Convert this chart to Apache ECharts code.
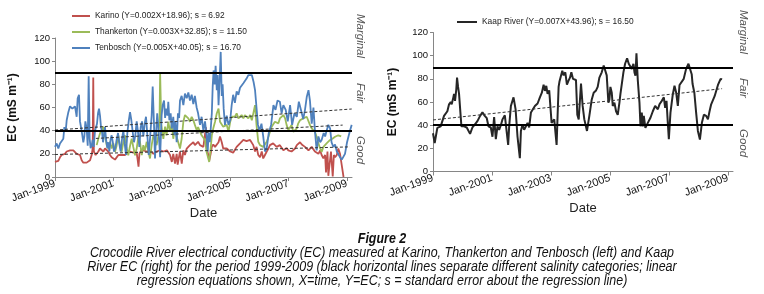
<!DOCTYPE html>
<html>
<head>
<meta charset="utf-8">
<script src="https://cdn.jsdelivr.net/npm/echarts@6/dist/echarts.min.js"></script>
<style>
  html, body { margin: 0; padding: 0; background: #fff; }
  #chart { width: 764px; height: 294px; }
</style>
</head>
<body>
<div id="chart"></div>
<script>
// x = years since Jan-1999, y = EC (mS/m)
const xTicks = [0, 2, 4, 6, 8, 10];
const xTickLabels = ['Jan-1999', 'Jan-2001', 'Jan-2003', 'Jan-2005', 'Jan-2007', 'Jan-2009'];
const xMax = 10.17;
const classLimits = [90, 40];

const karinoName = 'Karino (Y=0.002X+18.96); s = 6.92';
const thankertonName = 'Thankerton (Y=0.003X+32.85); s = 11.50';
const tenboschName = 'Tenbosch (Y=0.005X+40.05); s = 16.70';
const kaapName = 'Kaap River (Y=0.007X+43.96); s = 16.50';

const karino = [[0,13],[0.057,14.5],[0.114,14],[0.171,17],[0.228,19],[0.285,18],[0.34,20],[0.4,22],[0.457,23],[0.514,23],
  [0.571,22],[0.628,23],[0.685,22],[0.742,20],[0.8,20.5],[0.856,19],[0.913,14.5],[0.97,12.4],[1.027,12],[1.084,12.4],
  [1.14,13],[1.2,14.5],[1.256,19],[1.29,24.6],[1.31,86],[1.33,22],[1.39,19],[1.427,20],[1.484,22],[1.54,24.6],
  [1.6,26],[1.655,22],[1.712,24.6],[1.77,26],[1.826,22],[1.884,19],[1.94,17],[2.0,16],[2.055,15],[2.11,16],
  [2.17,19],[2.226,20],[2.28,19],[2.34,18],[2.397,19],[2.454,20],[2.57,22],[2.68,21],[2.79,22],[2.83,15],[2.86,9],[2.89,20],
  [2.95,23],[3.025,23],[3.14,22],[3.25,23],[3.37,20],[3.48,22],[3.6,23],[3.72,22],[3.83,23],[3.94,19],[4.0,13],[4.05,20],
  [4.11,11.6],[4.166,20],[4.2,10.7],[4.28,22],[4.34,11.6],[4.395,23],[4.45,19],[4.51,24.6],[4.566,26],[4.62,27.5],
  [4.68,29],[4.737,30],[4.79,27.5],[4.85,29],[4.9,30.4],[4.966,27.5],[5.02,29],[5.08,26],[5.137,27.5],[5.17,43],
  [5.2,24],[5.25,19],[5.28,14],[5.33,20],[5.37,26],[5.42,28],[5.48,26],[5.54,27],[5.6,30],[5.65,35],[5.71,30],
  [5.76,24.6],[5.88,24.6],[6.0,22],[6.1,21],[6.22,26],[6.336,29],[6.45,32],[6.56,31],[6.68,32],[6.79,27.5],[6.85,22],
  [6.9,26],[6.96,19],[7.02,17],[7.08,22],[7.13,16],[7.19,19],[7.25,22],[7.31,24.6],[7.36,27.5],[7.42,26],[7.47,29],
  [7.53,27.5],[7.59,26],[7.65,24.6],[7.7,27.5],[7.76,26],[7.82,23],[7.88,24.6],[7.93,25],[7.99,23],[8.05,24.6],
  [8.1,22],[8.16,23],[8.22,24.6],[8.28,27.5],[8.33,29],[8.39,30],[8.45,28],[8.5,27.5],[8.56,26],[8.62,24.6],
  [8.68,23],[8.73,24.6],[8.79,26],[8.85,24.6],[8.9,22],[8.96,23],[9.02,20],[9.08,23],[9.13,19],[9.19,16],[9.25,19],
  [9.28,4],[9.33,22],[9.36,1],[9.42,0],[9.45,22],[9.51,0.5],[9.55,19],[9.59,17],[9.65,19],[9.7,24.6],[9.76,20],
  [9.82,10],[9.88,0]];

const thankerton = [[1.427,27.5],[1.484,33],[1.54,37.6],[1.6,40.5],[1.655,43.4],[1.69,37],[1.735,33],[1.77,27.5],
  [1.826,24.6],[1.884,30.4],[1.94,24.6],[2.0,29],[2.055,21.7],[2.11,27],[2.17,36],[2.226,27],[2.28,21.7],[2.34,30],
  [2.397,36],[2.454,25],[2.51,18.8],[2.57,27],[2.626,33],[2.68,26],[2.74,18.8],[2.797,24.6],[2.854,34.7],[2.91,30.4],
  [2.97,18.8],[3.025,27.5],[3.08,23],[3.14,30.4],[3.2,21.7],[3.253,16],[3.31,27.5],[3.368,36],[3.42,32],[3.48,27.5],
  [3.54,36],[3.58,50],[3.6,89.6],[3.64,45],[3.676,39],[3.71,33],[3.77,43.4],[3.82,36],[3.88,47.7],[3.94,39],[4.0,46.3],
  [4.05,33],[4.11,43.4],[4.166,34.7],[4.22,36],[4.28,24.6],[4.337,33],[4.395,47.7],[4.45,53.5],[4.51,55],[4.566,50.6],
  [4.62,47.7],[4.68,52],[4.737,49],[4.79,45],[4.85,40.5],[4.9,43],[4.966,39],[5.02,36],[5.08,37.6],[5.137,32],
  [5.19,21.7],[5.25,16],[5.28,13],[5.33,24.6],[5.37,36],[5.42,42],[5.48,47.7],[5.54,55],[5.6,59],[5.65,47.7],
  [5.71,46.3],[5.76,43.4],[5.82,42],[5.88,45],[5.94,39],[6.0,47.7],[6.05,52],[6.1,53.5],[6.16,52],[6.22,55],
  [6.28,50.6],[6.336,52],[6.39,53.5],[6.45,50.6],[6.5,53.5],[6.56,55],[6.62,50.6],[6.68,53.5],[6.74,49],[6.8,56],
  [6.85,62],[6.9,45],[6.96,30.4],[7.02,27.5],[7.08,29],[7.13,26],[7.19,27.5],[7.25,30.4],[7.31,34.7],[7.36,39],
  [7.42,43.4],[7.47,45],[7.53,47.7],[7.59,49],[7.65,46.3],[7.7,50.6],[7.76,52],[7.82,53.5],[7.88,50.6],[7.93,45],
  [7.99,40.5],[8.05,42],[8.1,45],[8.16,39],[8.22,37.6],[8.28,42],[8.33,46.3],[8.39,49],[8.45,50.6],[8.5,50.6],
  [8.56,49],[8.62,52],[8.68,50.6],[8.73,45],[8.79,42],[8.85,40.5],[8.9,39],[8.96,34.7],[9.02,29],[9.08,24.6],
  [9.13,21.7],[9.19,26],[9.25,27.5],[9.3,29],[9.36,30.4],[9.42,32],[9.5,33],[9.59,34.7],[9.7,36],[9.8,35]];

const tenbosch = [[0,26],[0.057,29],[0.114,24.6],[0.171,29],[0.228,27.5],[0.285,33],[0.32,43],[0.365,39],[0.4,49],
  [0.457,56],[0.514,61],[0.548,62],[0.594,59],[0.65,58],[0.685,61],[0.742,52],[0.776,68],[0.822,71],[0.856,48],
  [0.89,43],[0.936,36],[0.97,30],[1.005,35],[1.04,48],[1.084,42],[1.12,27],[1.153,87],[1.187,33],[1.22,25],[1.256,27],
  [1.29,32],[1.324,26],[1.37,40],[1.404,43],[1.438,46],[1.473,55],[1.507,59],[1.541,53],[1.575,43],[1.61,39],
  [1.644,30],[1.678,36],[1.712,43],[1.747,33],[1.792,25],[1.826,30],[1.86,22],[1.906,33],[1.94,36],[1.986,29],
  [2.02,22],[2.066,25],[2.11,32],[2.158,38],[2.2,29],[2.25,22],[2.295,33],[2.34,40],[2.386,29],[2.43,19],[2.477,38],
  [2.523,48],[2.57,56],[2.614,49],[2.66,39],[2.705,30],[2.75,36],[2.797,48],[2.842,39],[2.888,26],[2.934,43],
  [2.98,48],[3.025,35],[3.07,46],[3.116,52],[3.162,36],[3.208,19],[3.253,33],[3.31,53],[3.345,78],[3.39,45],
  [3.425,16],[3.458,36],[3.5,55],[3.53,46],[3.57,30],[3.6,17],[3.65,53],[3.687,62],[3.733,66],[3.77,51],[3.8,59],
  [3.85,53],[3.88,65],[3.916,49],[3.96,55],[4.0,42],[4.05,52],[4.09,36],[4.12,48],[4.166,30],[4.21,55],[4.25,51],
  [4.28,66],[4.337,70],[4.395,62],[4.45,72],[4.51,68],[4.566,73],[4.62,66],[4.68,71],[4.737,63],[4.79,70],[4.85,60],
  [4.9,55],[4.966,45],[5.02,52],[5.08,40],[5.137,48],[5.19,36],[5.23,22],[5.26,38],[5.3,30],[5.37,55],[5.4,78],
  [5.43,92],[5.47,80],[5.5,96],[5.54,75],[5.57,88],[5.6,62],[5.64,85],[5.674,108],[5.71,70],[5.74,80],[5.776,59],
  [5.82,45],[5.88,53],[5.94,45],[6.0,49],[6.05,62],[6.1,71],[6.16,64],[6.22,74],[6.28,71],[6.336,77],[6.39,78],
  [6.45,81],[6.5,82],[6.56,85],[6.62,88],[6.68,87],[6.74,88],[6.8,82],[6.85,75],[6.9,60],[6.95,45],[7.0,40],
  [7.07,46],[7.13,35],[7.19,22],[7.25,25],[7.32,38],[7.4,45],[7.48,62],[7.55,58],[7.62,66],[7.7,65],[7.76,55],
  [7.82,62],[7.9,58],[7.97,48],[8.05,62],[8.12,45],[8.2,55],[8.28,52],[8.35,65],[8.42,58],[8.5,50],[8.56,58],
  [8.62,69],[8.68,75],[8.73,66],[8.79,46],[8.85,60],[8.9,40],[8.96,23],[9.02,35],[9.08,30],[9.13,32],[9.2,38],
  [9.25,35],[9.3,40],[9.36,45],[9.42,42],[9.47,30],[9.53,26],[9.59,28],[9.65,22],[9.7,20],[9.76,17],[9.82,15],
  [9.88,16],[9.93,20],[10.0,30],[10.1,40],[10.16,45]];

const kaap = [[0,33],[0.057,24.6],[0.147,37.7],[0.26,39],[0.317,40.5],[0.374,48],[0.487,52],[0.544,58],[0.6,60],
  [0.634,58],[0.69,64],[0.713,67],[0.747,61],[0.79,71],[0.815,81],[0.85,73],[0.883,67],[0.963,39],[1.053,39],
  [1.144,38],[1.2,39],[1.257,32.5],[1.336,38],[1.416,40.5],[1.506,43.5],[1.597,48],[1.676,51],[1.755,48],[1.823,46],
  [1.88,39],[1.96,38],[2.016,30],[2.072,47],[2.13,28],[2.186,39],[2.242,36],[2.3,40],[2.356,45],[2.435,48.5],
  [2.548,23],[2.582,39],[2.64,56.5],[2.73,64],[2.8,53.7],[2.865,30],[2.944,11.5],[2.98,35],[3.035,40.6],[3.09,36],
  [3.15,39],[3.205,42],[3.26,38],[3.32,51],[3.375,52],[3.454,56.5],[3.545,58.7],[3.624,64],[3.69,68],[3.75,75],
  [3.794,69.6],[3.84,74],[3.884,67],[3.94,70],[4.02,42],[4.11,45],[4.19,23],[4.224,48.5],[4.258,73],[4.29,78],
  [4.337,77],[4.383,87],[4.428,83],[4.485,85.6],[4.54,75],[4.587,78],[4.643,81],[4.69,85.6],[4.745,80],[4.79,81],
  [4.847,79],[4.892,49],[4.94,45],[5.017,76],[5.073,56.6],[5.13,45],[5.22,35],[5.3,48],[5.38,62],[5.447,68],
  [5.527,70],[5.583,73],[5.64,81],[5.72,85.6],[5.787,91.5],[5.832,93],[5.889,83],[5.946,59.5],[5.98,62],[6.014,73],
  [6.06,68],[6.094,56.6],[6.15,59.5],[6.206,52],[6.263,49],[6.32,59.5],[6.353,66.7],[6.4,75.5],[6.455,85.6],
  [6.512,93],[6.58,97.7],[6.636,93],[6.693,94.5],[6.738,88.6],[6.795,93],[6.83,85.6],[6.863,82.7],[6.897,102],
  [6.942,79],[6.999,59.5],[7.033,39],[7.078,50.8],[7.112,39],[7.146,48],[7.2,37.7],[7.282,42],[7.372,46.4],
  [7.452,52],[7.531,56.6],[7.622,53.7],[7.678,58],[7.757,61],[7.825,64],[7.87,55],[7.916,61],[7.96,42],[7.995,28],
  [8.05,50.8],[8.13,66.7],[8.187,74],[8.244,68],[8.3,56.6],[8.357,74.7],[8.414,76],[8.5,80],[8.58,88.6],[8.66,93],
  [8.72,91.5],[8.77,84],[8.8,75.5],[8.86,68],[8.92,50.8],[8.98,35],[9.048,27.5],[9.115,42],[9.183,49],[9.26,48],
  [9.32,45],[9.375,52],[9.43,58],[9.547,65],[9.66,74.7],[9.75,80],[9.8,79.5]];

// regression lines, end points
const karinoTrend = [[0,19.4],[10.1,26]];
const thankertonTrend = [[1.4,33.3],[9.85,44.8]];
const tenboschTrend = [[0,40.5],[10.16,58.7]];
const kaapTrend = [[0,44.5],[9.8,71.5]];

const chart = echarts.init(document.getElementById('chart'));

const sans = '"Liberation Sans", Arial, sans-serif';

function xAxisFor(gridIndex, nameGap) {
  return {
    type: 'value',
    gridIndex: gridIndex,
    min: 0,
    max: xMax,
    name: 'Date',
    nameLocation: 'middle',
    nameGap: nameGap,
    nameTextStyle: { fontFamily: sans, fontSize: 13, color: '#222' },
    axisLine: { lineStyle: { color: '#868686', width: 1 } },
    axisTick: { show: true, customValues: xTicks, length: 4, lineStyle: { color: '#868686' } },
    axisLabel: {
      customValues: xTicks,
      rotate: 20,
      margin: 6,
      fontFamily: sans,
      fontSize: 11,
      color: '#111',
      formatter: v => xTickLabels[xTicks.indexOf(v)]
    },
    splitLine: { show: false }
  };
}

function yAxisFor(gridIndex, nameGap) {
  return {
    type: 'value',
    gridIndex: gridIndex,
    min: 0,
    max: 120,
    interval: 20,
    name: 'EC (mS m\u207B\u00B9)',
    nameLocation: 'middle',
    nameGap: nameGap,
    nameRotate: 90,
    nameTextStyle: { fontFamily: sans, fontSize: 12, fontWeight: 'bold', color: '#111' },
    axisLine: { show: true, lineStyle: { color: '#868686', width: 1 } },
    axisTick: { show: true, length: 3, lineStyle: { color: '#868686' } },
    axisLabel: { fontFamily: sans, fontSize: 9.5, color: '#111', margin: 5 },
    splitLine: { show: false }
  };
}

const thresholdLines = {
  silent: true,
  symbol: ['none', 'none'],
  label: { show: false },
  lineStyle: { color: '#000', width: 2, type: 'solid' },
  data: classLimits.map(v => ({ yAxis: v }))
};

function dataLine(name, data, color, xi) {
  return {
    name: name,
    type: 'line',
    xAxisIndex: xi,
    yAxisIndex: xi,
    data: data,
    showSymbol: false,
    symbol: 'none',
    lineStyle: { color: color, width: 1.8 },
    itemStyle: { color: color }
  };
}

function trendLine(data, xi) {
  return {
    type: 'line',
    xAxisIndex: xi,
    yAxisIndex: xi,
    data: data,
    symbol: 'none',
    silent: true,
    lineStyle: { color: '#333', width: 1, type: [3, 2] },
    z: 3
  };
}

function classLabel(text, x, y) {
  return {
    type: 'text',
    x: x,
    y: y,
    rotation: -Math.PI / 2,
    style: {
      text: text,
      font: 'italic 11.5px ' + sans,
      fill: '#555',
      align: 'center',
      verticalAlign: 'middle'
    }
  };
}

// caption font is a narrow face; squeeze the regular one
function captionLine(text, y, font) {
  return {
    type: 'text',
    x: 382,
    y: y,
    scaleX: 0.89,
    style: { text: text, font: font, fill: '#111', align: 'center', verticalAlign: 'middle' }
  };
}

const tenboschSeries = dataLine(tenboschName, tenbosch, '#4F81BD', 0);
tenboschSeries.markLine = thresholdLines;
const kaapSeries = dataLine(kaapName, kaap, '#262626', 1);
kaapSeries.lineStyle.width = 2;
kaapSeries.markLine = thresholdLines;

const legendText = { fontFamily: sans, fontSize: 8.4, color: '#222', lineHeight: 12 };

const option = {
  animation: false,
  backgroundColor: '#fff',
  grid: [
    { left: 55, top: 38, width: 297, height: 139 },
    { left: 433, top: 32.5, width: 300, height: 139 }
  ],
  legend: [
    {
      data: [karinoName, thankertonName, tenboschName],
      orient: 'vertical',
      left: 72,
      top: 10,
      padding: 0,
      itemGap: 4,
      itemWidth: 18,
      itemHeight: 2,
      icon: 'rect',
      selectedMode: false,
      textStyle: legendText
    },
    {
      data: [kaapName],
      orient: 'vertical',
      left: 457,
      top: 16,
      padding: 0,
      itemWidth: 20,
      itemHeight: 2,
      icon: 'rect',
      selectedMode: false,
      textStyle: legendText
    }
  ],
  xAxis: [xAxisFor(0, 30), xAxisFor(1, 30)],
  yAxis: [yAxisFor(0, 36), yAxisFor(1, 34)],
  series: [
    dataLine(karinoName, karino, '#C0504D', 0),
    dataLine(thankertonName, thankerton, '#9BBB59', 0),
    tenboschSeries,
    trendLine(karinoTrend, 0),
    trendLine(thankertonTrend, 0),
    trendLine(tenboschTrend, 0),
    kaapSeries,
    trendLine(kaapTrend, 1)
  ],
  graphic: [
    classLabel('Marginal', 360, 36),
    classLabel('Fair', 360, 93),
    classLabel('Good', 360, 150),
    classLabel('Marginal', 743, 32),
    classLabel('Fair', 743, 88),
    classLabel('Good', 743, 143),
    captionLine('Figure 2', 239, 'italic bold 14px ' + sans),
    captionLine('Crocodile River electrical conductivity (EC) measured at Karino, Thankerton and Tenbosch (left) and Kaap', 253, 'italic 14px ' + sans),
    captionLine('River EC (right) for the period 1999-2009 (black horizontal lines separate different salinity categories; linear', 267.5, 'italic 14px ' + sans),
    captionLine('regression equations shown, X=time, Y=EC; s = standard error about the regression line)', 281.5, 'italic 14px ' + sans)
  ]
};

chart.setOption(option);
</script>
</body>
</html>
